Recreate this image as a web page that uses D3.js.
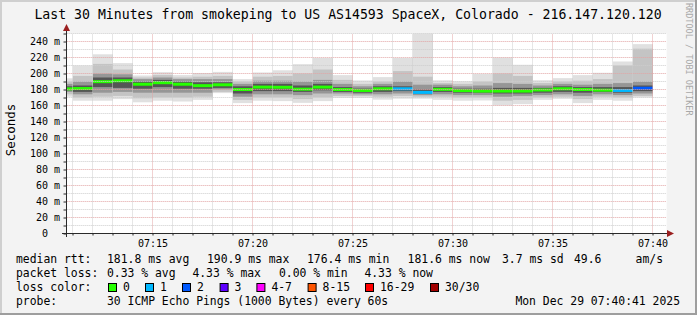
<!DOCTYPE html>
<html><head><meta charset="utf-8">
<script src="https://cdn.jsdelivr.net/npm/d3@7"></script>
<style>html,body{margin:0;padding:0;background:#f3f3f3;} svg{display:block;}</style>
</head><body><svg id="c" width="697" height="315"></svg>
<script>
// ---- data (one entry per 60 s step, time = end of step) ----
const times  = ["07:11","07:12","07:13","07:14","07:15","07:16","07:17","07:18","07:19","07:20",
                "07:21","07:22","07:23","07:24","07:25","07:26","07:27","07:28","07:29","07:30",
                "07:31","07:32","07:33","07:34","07:35","07:36","07:37","07:38","07:39","07:40"];
const median = [180.8,181.2,189.8,190.9,186.6,188.5,186.6,184.8,185.9,180.0,
                183.0,182.8,180.4,183.0,180.0,178.8,180.9,180.9,176.4,180.2,
                178.6,178.0,178.0,178.0,179.4,180.9,180.0,179.2,178.8,181.6];
const pingMin = [171,166,166,168,164,166,165,167,175.5,163,
                 166,165.5,163.3,165.5,169.5,169.5,167.3,168.5,168.5,167,
                 166,166.3,160,161.7,167,168.3,163,167,166,170];
const pingMax = [194,210,224,213,197.5,201.7,198,200.7,202,193,
                 201.3,204,211.7,219.5,198,191.3,195.5,219.5,252,191.5,
                 190.3,199.6,220,210.9,191.6,194.2,198,200.9,215,236.7];
const lo2 = [174,170,171,172,169,170,170,171,177,167, 170,170,168,170,172,172,171,172,171,171, 170,170,166,167,170,171,168,171,170,172];
const hi2 = [190,197,212,205,195,198,195,196,197,190, 196,197,200,205,192,187,190,203,196,188, 187,190,200,197,188,190,191,193,210,231];
const lo3 = [177,174,176,177,176,176,176,176,180,171, 174,174,173,175,175,174,174,175,173,174, 173,173,171,172,173,174,172,174,173,175];
const hi3 = [187,190,200,199,193,195,193,193,193,187, 191,191,190,192,187,184,187,190,186,186, 184,185,188,187,185,187,186,187,188,190];
const lo4 = [179,177,183,182,181,183,181,181,182,175, 178,178,177,179,177,176,177,178,175,177, 176,176,175,175,176,177,176,177,176,178];
const hi4 = [184,185,195,195,190,192,190,189,189,184, 187,187,185,187,183,181,184,184,180,183, 181,181,182,182,182,184,183,183,183,185];
const lossCount = [0,0,0,0,0,0,0,0,0,0, 0,0,0,0,0,0,0,1,1,0, 0,0,0,0,0,0,0,0,1,2];

const yTickValues = [0,20,40,60,80,100,120,140,160,180,200,220,240];
const xTickLabels = ["07:15","07:20","07:25","07:30","07:35","07:40"];
const lossLabels = ["0","1","2","3","4-7","8-15","16-29","30/30"];
const lossColors = ["#26ff00","#00b8ff","#0059ff","#5e00ff","#ff00ff","#ff5500","#ff0000","#a10000"];

const titleText = "Last 30 Minutes from smokeping to US AS14593 SpaceX, Colorado - 216.147.120.120";
const legendRows = [
  [["median rtt:",16],["181.8 ms avg",107],["190.9 ms max",207],["176.4 ms min",307],["181.6 ms now",407.6],["3.7 ms sd",502],["49.6",574],["am/s",635.6]],
  [["packet loss:",16],["0.33 % avg",107],["4.33 % max",192.4],["0.00 % min",279],["4.33 % now",364.4]],
  [["loss color:",16]],
  [["probe:",16],["30 ICMP Echo Pings (1000 Bytes) every 60s",107]]
];
const stampText = "Mon Dec 29 07:40:41 2025";

// ---- drawing ----
const svg = d3.select("#c");
const W = 697, H = 315;
const mono = "'DejaVu Sans Mono', monospace";
const parse = d3.timeParse("%Y-%m-%d %H:%M:%S");
const t0 = parse("2025-12-29 07:10:41"), t1 = parse("2025-12-29 07:40:41");
const x = d3.scaleTime().domain([t0, t1]).range([66.667, 666.667]);
const y = d3.scaleLinear().domain([0, 250]).range([233.5, 33.5]);

svg.append("rect").attr("width", W).attr("height", H).attr("fill", "#f3f3f3");
// frame
svg.append("rect").attr("x",0).attr("y",0).attr("width",W).attr("height",2).attr("fill","#cfcfcf");
svg.append("rect").attr("x",0).attr("y",0).attr("width",2).attr("height",H).attr("fill","#cfcfcf");
svg.append("rect").attr("x",0).attr("y",H-2).attr("width",W).attr("height",2).attr("fill","#9e9e9e");
svg.append("rect").attr("x",W-2).attr("y",0).attr("width",2).attr("height",H).attr("fill","#9e9e9e");

// plot background
svg.append("rect").attr("x", x(t0)).attr("y", y(250)).attr("width", x(t1)-x(t0)).attr("height", y(0)-y(250)).attr("fill", "#ffffff");

svg.append("defs").append("clipPath").attr("id","pc").append("rect")
  .attr("x", x(t0)).attr("y", y(250)).attr("width", x(t1)-x(t0)).attr("height", y(0)-y(250));

const steps = times.map((t,i) => {
  const end = parse("2025-12-29 " + t + ":00");
  const start = new Date(Math.max(+end - 60000, +t0));
  return {i, start, end};
});

const gData = svg.append("g").attr("clip-path","url(#pc)");
const bands = [
  {lo: pingMin, hi: pingMax, c: "#e0e0e0"},
  {lo: lo2, hi: hi2, c: "#c4c4c4"},
  {lo: lo3, hi: hi3, c: "#969696"},
  {lo: lo4, hi: hi4, c: "#555555"}
];
bands.forEach(b => {
  gData.selectAll(null).data(steps).enter().append("rect")
    .attr("x", d => x(d.start)).attr("width", d => x(d.end) - x(d.start))
    .attr("y", d => y(b.hi[d.i])).attr("height", d => y(b.lo[d.i]) - y(b.hi[d.i]))
    .attr("fill", b.c);
});
function lossIdx(n){ if(n<=0) return 0; if(n===1) return 1; if(n===2) return 2; if(n===3) return 3; if(n<=7) return 4; if(n<=15) return 5; if(n<=29) return 6; return 7; }
gData.selectAll(null).data(steps).enter().append("rect")
  .attr("x", d => x(d.start)).attr("width", d => x(d.end) - x(d.start))
  .attr("y", d => y(median[d.i]) - 1.5).attr("height", 3)
  .attr("fill", d => lossColors[lossIdx(lossCount[d.i])]);

// grid (drawn over data)
const gGrid = svg.append("g");
d3.range(10, 251, 10).forEach(v => {
  const major = v % 20 === 0;
  gGrid.append("line").attr("x1", x(t0)).attr("x2", x(t1)).attr("y1", y(v)).attr("y2", y(v))
    .attr("stroke", major ? "#e2a4a4" : "#cdcdcd").attr("stroke-width",1)
    .attr("stroke-dasharray", "1,1");
});
const minutes = d3.timeMinute.range(d3.timeMinute.ceil(t0), t1);
minutes.forEach(m => {
  const major = m.getMinutes() % 5 === 0;
  const px = Math.round(x(m)) - 0.5;
  gGrid.append("line").attr("x1", px).attr("x2", px).attr("y1", y(0)).attr("y2", y(250))
    .attr("stroke", major ? "#e2a4a4" : "#cdcdcd").attr("stroke-width",1)
    .attr("stroke-dasharray", "1,1");
});

// axes
const axisCol = "#2a2a2a", arrowCol = "#9a1f1f";
const yAxis = d3.axisLeft(y).tickValues(d3.range(0, 251, 10)).tickSize(3).tickFormat("");
const gy = svg.append("g").attr("transform", "translate(66.5,0)").call(yAxis);
gy.select(".domain").remove();
gy.selectAll(".tick line").attr("stroke", axisCol);
const xAxis = d3.axisBottom(x).ticks(d3.timeMinute.every(1)).tickSize(2).tickFormat("");
const gx = svg.append("g").attr("transform", "translate(-0.5,233.5)").call(xAxis);
gx.select(".domain").remove();
gx.selectAll(".tick line").attr("stroke", axisCol);

svg.append("line").attr("x1",66.5).attr("x2",66.5).attr("y1",237).attr("y2",29).attr("stroke",axisCol);
svg.append("line").attr("x1",62).attr("x2",669).attr("y1",233.5).attr("y2",233.5).attr("stroke",axisCol);
svg.append("path").attr("d","M66.5,24 L63,31 L70,31 Z").attr("fill",arrowCol);
svg.append("path").attr("d","M674,233.5 L667,230 L667,237 Z").attr("fill",arrowCol);

// y labels
svg.selectAll(null).data(yTickValues).enter().append("text")
  .attr("x", d => d === 0 ? 48 : 60).attr("y", d => y(d) + 3.5)
  .attr("text-anchor","end").attr("font-family", mono).attr("font-size", 10).attr("fill","#000")
  .text(d => d === 0 ? "0" : d + " m");
// x labels
svg.selectAll(null).data(xTickLabels).enter().append("text")
  .attr("x", d => x(parse("2025-12-29 " + d + ":00"))).attr("y", 246.5)
  .attr("text-anchor","middle").attr("font-family", mono).attr("font-size", 10).attr("fill","#000")
  .text(d => d);

// title
svg.append("text").attr("x", 348).attr("y", 18.5).attr("text-anchor","middle")
  .attr("font-family", mono).attr("font-size", 13.2).attr("fill","#000").text(titleText);
// axis title
svg.append("text").attr("transform","translate(15,130) rotate(-90)").attr("text-anchor","middle")
  .attr("font-family", mono).attr("font-size", 12.5).attr("fill","#000").text("Seconds");
// watermark
svg.append("text").attr("transform","translate(685.5,3) rotate(90)").attr("text-anchor","start")
  .attr("font-family", mono).attr("font-size", 8.5).attr("fill","#a8a8a8").text("RRDTOOL / TOBI OETIKER");

// legend
const rowY = [263.3, 277.3, 291.3, 305];
legendRows.forEach((row, r) => {
  row.forEach(([txt, lx]) => {
    svg.append("text").attr("x", lx).attr("y", rowY[r]).attr("font-family", mono).attr("font-size", 11.4)
      .attr("fill","#000").attr("xml:space","preserve").text(txt);
  });
});
const boxX = [108,145,182,219.6,256.4,307.6,365,430];
lossLabels.forEach((lab, i) => {
  svg.append("rect").attr("x", boxX[i]+0.5).attr("y", 283.5).attr("width", 8).attr("height", 8)
    .attr("fill", lossColors[i]).attr("stroke","#000").attr("stroke-width",1);
  svg.append("text").attr("x", boxX[i] + 15).attr("y", rowY[2]).attr("font-family", mono).attr("font-size", 11.4)
    .attr("fill","#000").text(lab);
});
svg.append("text").attr("x", 680).attr("y", rowY[3]).attr("text-anchor","end").attr("font-family", mono)
  .attr("font-size", 11.4).attr("fill","#000").text(stampText);
</script></body></html>
